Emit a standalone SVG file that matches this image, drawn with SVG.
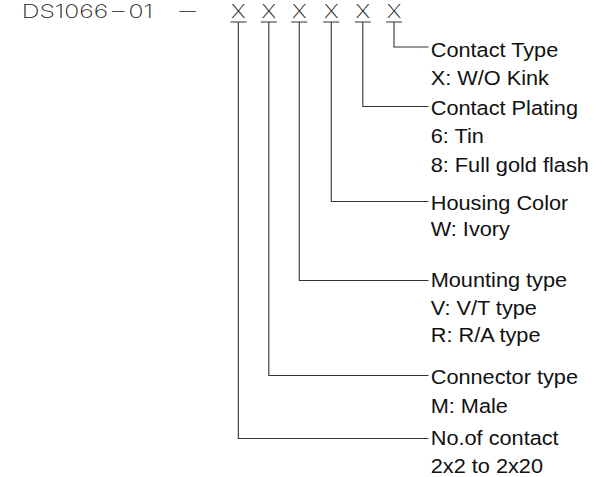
<svg xmlns="http://www.w3.org/2000/svg" width="608" height="477" viewBox="0 0 608 477">
<style>
.hdr{font-family:Inter,"DejaVu Sans","Liberation Sans",sans-serif;font-weight:200;font-size:18.5px;fill:#222}
.x{font-size:19px;text-anchor:middle}
.lbl{font-family:"Liberation Sans",Arial,sans-serif;font-size:20.5px;fill:#111}
.ln{fill:none;stroke:#333;stroke-width:1.1}
</style>
<rect width="608" height="477" fill="#fff"/>
<g id="header">
<text class="hdr" x="21.7" y="18.3" textLength="86.5" lengthAdjust="spacingAndGlyphs">DS1066</text>
<text class="hdr" transform="translate(118.3,16.8) scale(1.6,1)" x="0" y="0" text-anchor="middle">−</text>
<text class="hdr" x="128.5" y="18.3" textLength="24.5" lengthAdjust="spacingAndGlyphs">01</text>
<text class="hdr" transform="translate(187.5,16.8) scale(2.1,1)" x="0" y="0" text-anchor="middle">−</text>
<text class="hdr x" transform="translate(238.3,18.3) scale(1.2,1)">X</text>
<text class="hdr x" transform="translate(268.8,18.3) scale(1.2,1)">X</text>
<text class="hdr x" transform="translate(299.3,18.3) scale(1.2,1)">X</text>
<text class="hdr x" transform="translate(331.3,18.3) scale(1.2,1)">X</text>
<text class="hdr x" transform="translate(362.8,18.3) scale(1.2,1)">X</text>
<text class="hdr x" transform="translate(394,18.3) scale(1.2,1)">X</text>
</g>
<g id="connectors" class="ln">
<path d="M230.5 22H246.5M238.3 22V438.5H428.5"/>
<path d="M260.8 22H276.8M268.8 22V375.5H428.5"/>
<path d="M291.3 22H307.3M299.3 22V280.5H428.5"/>
<path d="M323.3 22H339.3M331.3 22V201.5H428.5"/>
<path d="M354.8 22H370.8M362.8 22V106.5H428.5"/>
<path d="M386 22H402M394 22V47H428.5"/>
</g>
<g transform="translate(430.7,0) scale(1.06,1)">
<g id="contact-type">
<text class="lbl" x="0" y="56.7">Contact Type</text>
<text class="lbl" x="0" y="85">X: W/O Kink</text>
</g>
<g id="contact-plating">
<text class="lbl" x="0" y="115">Contact Plating</text>
<text class="lbl" x="0" y="143.3">6: Tin</text>
<text class="lbl" x="0" y="171.7">8: Full gold flash</text>
</g>
<g id="housing-color">
<text class="lbl" x="0" y="210">Housing Color</text>
<text class="lbl" x="0" y="236">W: Ivory</text>
</g>
<g id="mounting-type">
<text class="lbl" x="0" y="287.5">Mounting type</text>
<text class="lbl" x="0" y="315">V: V/T type</text>
<text class="lbl" x="0" y="341.7">R: R/A type</text>
</g>
<g id="connector-type">
<text class="lbl" x="0" y="384">Connector type</text>
<text class="lbl" x="0" y="413">M: Male</text>
</g>
<g id="no-of-contact">
<text class="lbl" x="0" y="445">No.of contact</text>
<text class="lbl" x="0" y="473.3">2x2 to 2x20</text>
</g>
</g>
</svg>
